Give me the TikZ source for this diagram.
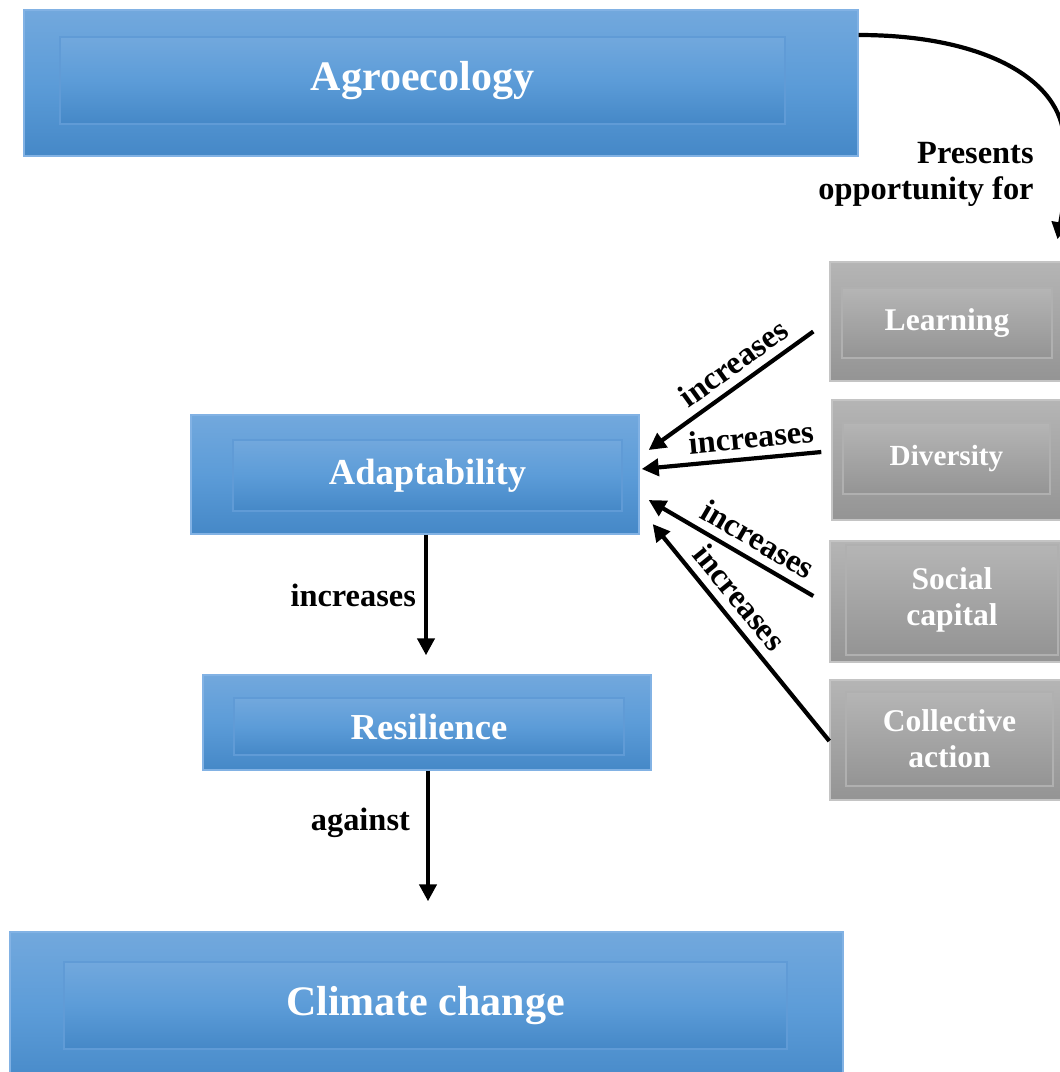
\documentclass[tikz,border=0pt]{standalone}
\usepackage{fontspec}
\setmainfont{Liberation Serif}
\usetikzlibrary{arrows.meta,positioning}

\definecolor{blueTop}{RGB}{114,168,221}
\definecolor{blueMid}{RGB}{92,156,216}
\definecolor{blueBot}{RGB}{69,136,199}
\definecolor{blueEdge}{RGB}{130,178,228}
\definecolor{blueLine}{RGB}{96,155,214}
\definecolor{grayTop}{RGB}{181,181,181}
\definecolor{grayBot}{RGB}{148,148,148}
\definecolor{grayEdge}{RGB}{196,196,196}
\definecolor{grayLine}{RGB}{176,176,176}

\begin{document}
\begin{tikzpicture}[
  x=0.5pt, y=-0.5pt,
  font=\bfseries,
  box/.style={draw, line width=0.7pt, inner sep=0pt},
  bluebox/.style={box, draw=blueEdge, top color=blueTop, bottom color=blueBot, middle color=blueMid},
  blueinner/.style={box, draw=blueLine, top color=blueTop, bottom color=blueBot, middle color=blueMid, text=white, align=center},
  graybox/.style={box, draw=grayEdge, top color=grayTop, bottom color=grayBot},
  grayinner/.style={box, draw=grayLine, top color=grayTop, bottom color=grayBot, text=white, align=center,
    font=\bfseries\fontsize{15.8}{18}\selectfont},
  big/.style={font=\bfseries\fontsize{21}{24}\selectfont},
  mid/.style={font=\bfseries\fontsize{18.3}{20}\selectfont},
  lbl/.style={font=\bfseries\fontsize{16.2}{18}\selectfont, text=black, inner sep=4pt},
  arr/.style={-{Triangle[length=8.5pt,width=8.5pt]}, line width=2.1pt}
]
\useasboundingbox (0,0) rectangle (1060,1072);

% --- main chain
\node[bluebox, minimum width=417pt, minimum height=73pt] (agro) at (441,83) {};
\node[blueinner, big, minimum width=362.5pt, minimum height=43.5pt] (agrotxt) at (422.5,80.5) {\raisebox{2pt}{Agroecology}};

\node[bluebox, minimum width=224pt, minimum height=59.5pt] (adapt) at (415,474.5) {};
\node[blueinner, mid, minimum width=194.5pt, minimum height=35.5pt] (adapttxt) at (427.5,475.5) {Adaptability};

\node[bluebox, minimum width=224pt, minimum height=47.5pt] (resil) at (427,722.5) {};
\node[blueinner, mid, minimum width=195pt, minimum height=28.5pt] (resiltxt) at (429,726.5) {\raisebox{-1.5pt}{Resilience}};

\node[bluebox, minimum width=416.5pt, minimum height=79pt] (climate) at (426.5,1011) {};
\node[blueinner, big, minimum width=361.5pt, minimum height=43.5pt] (climatetxt) at (425.5,1005.5) {Climate change};

% --- drivers (right column)
\node[graybox, minimum width=122.5pt, minimum height=59.5pt] (learn) at (952.5,321.5) {};
\node[grayinner, minimum width=105pt, minimum height=35pt] (learntxt) at (947,323) {Learning};

\node[graybox, minimum width=121.5pt, minimum height=60pt] (divers) at (953.5,460) {};
\node[grayinner, minimum width=103.5pt, minimum height=35.5pt, font=\bfseries\fontsize{14.6}{17}\selectfont] (diverstxt) at (946.5,458.5) {\raisebox{2pt}{Diversity}};

\node[graybox, minimum width=122.5pt, minimum height=60.5pt] (social) at (952.5,601.5) {};
\node[grayinner, minimum width=106pt, minimum height=55pt] (socialtxt) at (952,600) {Social\\capital};

\node[graybox, minimum width=122.5pt, minimum height=60pt] (collect) at (952.5,740) {};
\node[grayinner, minimum width=103.5pt, minimum height=47pt] (collecttxt) at (949.5,739) {Collective\\action};

% --- connectors
\draw[arr] ([shift={(0,-48)}]agro.east) .. controls (985,35) and (1062,80) .. (1064,140)
  .. controls (1066,190) .. ([shift={(105,-22)}]learn.north);
\node[lbl, align=right, anchor=east] (opp) at (1042,174) {Presents\\opportunity for};

\draw[arr] ([shift={(-16,10)}]learn.west) -- node[lbl, sloped, above, pos=0.41] {increases} ([shift={(9,-24.5)}]adapt.east);
\draw[arr] ([shift={(-10,-8)}]divers.west) -- node[lbl, sloped, above, pos=0.38] {increases} ([shift={(2,-5.5)}]adapt.east);
\draw[arr] ([shift={(-16,-5.5)}]social.west) -- node[lbl, sloped, above, pos=0.4] {increases} ([shift={(9,25.5)}]adapt.east);
\draw[arr] ([shift={(0,1)}]collect.west) -- node[lbl, sloped, above, pos=0.6] {increases} ([shift={(13,49.5)}]adapt.east);

\draw[arr] ([shift={(11,0)}]adapt.south) -- node[lbl, left] {increases} ([shift={(-1,-19)}]resil.north);
\draw[arr] ([shift={(1,0)}]resil.south) -- node[lbl, left, pos=0.4, xshift=-4pt] {against} ([shift={(1.5,-30)}]climate.north);
\end{tikzpicture}
\end{document}
